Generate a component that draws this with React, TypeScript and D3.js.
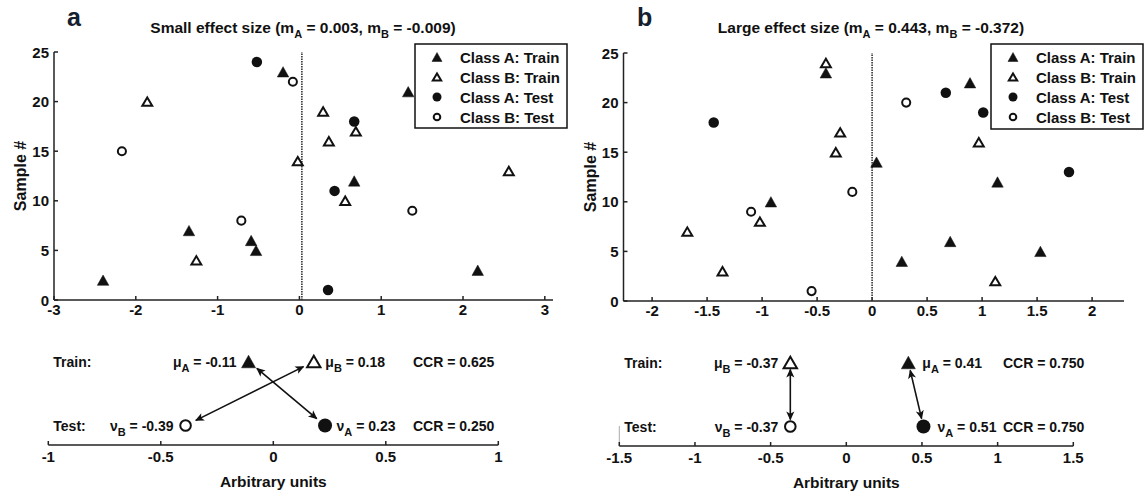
import React from "react";
import * as d3 from "d3";

// ---------- DATA ----------
// Panel a (small effect size)
const aTrainAx = [-2.4, 2.18, -0.53, -0.59, -1.35, 0.67, 1.33, -0.2];
const aTrainAy = [2, 3, 5, 6, 7, 12, 21, 23];
const aTrainBx = [-1.26, 0.56, 2.56, -0.02, 0.36, 0.69, 0.29, -1.86];
const aTrainBy = [4, 10, 13, 14, 16, 17, 19, 20];
const aTestAx = [0.35, 0.43, 0.67, -0.52];
const aTestAy = [1, 11, 18, 24];
const aTestBx = [-0.71, 1.38, -2.17, -0.08];
const aTestBy = [8, 9, 15, 22];

// Panel b (large effect size)
const bTrainAx = [0.27, 1.53, 0.71, -0.92, 1.14, 0.04, 0.89, -0.42];
const bTrainAy = [4, 5, 6, 10, 12, 14, 22, 23];
const bTrainBx = [1.12, -1.36, -1.68, -1.02, -0.33, 0.97, -0.29, -0.42];
const bTrainBy = [2, 3, 7, 8, 15, 16, 17, 24];
const bTestAx = [1.79, -1.44, 1.01, 0.67];
const bTestAy = [13, 18, 19, 21];
const bTestBx = [-0.55, -1.1, -0.18, 0.31];
const bTestBy = [1, 9, 11, 20];

// Means (bottom strips)
const aMeans = { muA: -0.11, muB: 0.18, nuA: 0.23, nuB: -0.39 };
const bMeans = { muA: 0.41, muB: -0.37, nuA: 0.51, nuB: -0.37 };
const aMeanLabels = { muA: "-0.11", muB: "0.18", nuA: "0.23", nuB: "-0.39" };
const bMeanLabels = { muA: "0.41", muB: "-0.37", nuA: "0.51", nuB: "-0.37" };
const aCCR = ["0.625", "0.250"];
const bCCR = ["0.750", "0.750"];

const aBoundary = 0.03;
const bBoundary = 0.0;

// Ticks
const aScatterXTicks = [-3, -2, -1, 0, 1, 2, 3];
const bScatterXTicks = [-2, -1.5, -1, -0.5, 0, 0.5, 1, 1.5, 2];
const yTicks = [0, 5, 10, 15, 20, 25];
const aStripTicks = [-1, -0.5, 0, 0.5, 1];
const bStripTicks = [-1.5, -1, -0.5, 0, 0.5, 1, 1.5];

const legendLabels = ["Class A: Train", "Class B: Train", "Class A: Test", "Class B: Test"];
const aTitle = { pre: "Small effect size (m", a: " = 0.003, m", b: " = -0.009)" };
const bTitle = { pre: "Large effect size (m", a: " = 0.443, m", b: " = -0.372)" };

// ---------- STYLE ----------
const FONT = "'Liberation Sans', Arial, Helvetica, sans-serif";
const INK = "#111";
const AXIS = "#222";

type MarkerKind = "triF" | "triO" | "cirF" | "cirO";

function Marker({ kind, cx, cy, s }: { kind: MarkerKind; cx: number; cy: number; s: number }) {
  if (kind === "triF") {
    const w = s, h = s * 0.9;
    return <path d={`M${cx - w / 2},${cy + h / 2}L${cx + w / 2},${cy + h / 2}L${cx},${cy - h / 2}Z`} fill={INK} stroke={INK} strokeWidth={0.5} strokeLinejoin="round" />;
  }
  if (kind === "triO") {
    const w = s - 1.6, h = (s - 1.6) * 0.85;
    return <path d={`M${cx - w / 2},${cy + h / 2}L${cx + w / 2},${cy + h / 2}L${cx},${cy - h / 2}Z`} fill="#fff" stroke={INK} strokeWidth={2} strokeLinejoin="miter" />;
  }
  if (kind === "cirF") {
    return <circle cx={cx} cy={cy} r={s / 2} fill={INK} />;
  }
  return <circle cx={cx} cy={cy} r={s / 2 - 1.2} fill="#fff" stroke={INK} strokeWidth={2} />;
}

type ScatterProps = {
  letter: string;
  letterX: number;
  title: { pre: string; a: string; b: string };
  titleX: number;
  xDomain: [number, number];
  xRange: [number, number];
  yRange: [number, number];
  xTicks: number[];
  boundary: number;
  series: { kind: MarkerKind; xs: number[]; ys: number[] }[];
  legend: { x: number; y: number; w: number; h: number };
};

function Scatter(p: ScatterProps) {
  const x = d3.scaleLinear().domain(p.xDomain).range(p.xRange);
  const y = d3.scaleLinear().domain([0, 25]).range(p.yRange);
  const x0 = p.xRange[0];
  const yb = p.yRange[0];
  const fmt = (v: number) => String(v);
  const kinds: MarkerKind[] = ["triF", "triO", "cirF", "cirO"];
  return (
    <g>
      <text x={p.letterX} y={26} fontSize={25} fontWeight="bold" fill="#15202e" fontFamily={FONT}>{p.letter}</text>
      <text x={p.titleX} y={33} fontSize={15.5} fontWeight="bold" fill={INK} textAnchor="middle" fontFamily={FONT}>
        {p.title.pre}
        <tspan fontSize={11} dy={5}>A</tspan>
        <tspan dy={-5}>{p.title.a}</tspan>
        <tspan fontSize={11} dy={5}>B</tspan>
        <tspan dy={-5}>{p.title.b}</tspan>
      </text>
      {/* axes */}
      <line x1={x0} x2={p.xRange[1]} y1={yb} y2={yb} stroke={AXIS} strokeWidth={1.5} />
      <line x1={x0} x2={x0} y1={yb} y2={p.yRange[1]} stroke={AXIS} strokeWidth={1.5} />
      {p.xTicks.map((t) => (
        <g key={"xt" + t}>
          <line x1={x(t)} x2={x(t)} y1={yb} y2={yb - 4} stroke={AXIS} strokeWidth={1.5} />
          <text x={x(t)} y={yb + 15} fontSize={15} fontWeight="bold" textAnchor="middle" fill={INK} fontFamily={FONT}>{fmt(t)}</text>
        </g>
      ))}
      {yTicks.map((t) => (
        <g key={"yt" + t}>
          <line x1={x0} x2={x0 + 4} y1={y(t)} y2={y(t)} stroke={AXIS} strokeWidth={1.5} />
          <text x={x0 - 5} y={y(t) + 5.5} fontSize={15} fontWeight="bold" textAnchor="end" fill={INK} fontFamily={FONT}>{t}</text>
        </g>
      ))}
      <text transform={`translate(${x0 - 28},${(p.yRange[0] + p.yRange[1]) / 2}) rotate(-90)`} fontSize={16} fontWeight="bold" textAnchor="middle" fill={INK} fontFamily={FONT}>Sample #</text>
      {/* boundary */}
      <line x1={x(p.boundary)} x2={x(p.boundary)} y1={yb} y2={p.yRange[1]} stroke="#333" strokeWidth={1.6} strokeDasharray="1.5,1" />
      {/* points */}
      {p.series.map((s, si) =>
        s.xs.map((v, i) => <Marker key={si + "-" + i} kind={s.kind} cx={x(v)} cy={y(s.ys[i])} s={s.kind.startsWith("tri") ? 11.5 : 10.5} />)
      )}
      {/* legend */}
      <rect x={p.legend.x} y={p.legend.y} width={p.legend.w} height={p.legend.h} fill="#fff" stroke={INK} strokeWidth={1.5} />
      {legendLabels.map((lab, i) => {
        const cy = p.legend.y + 13 + i * 20;
        return (
          <g key={lab}>
            <Marker kind={kinds[i]} cx={p.legend.x + 22} cy={cy} s={kinds[i].startsWith("tri") ? 10 : 9} />
            <text x={p.legend.x + 45} y={cy + 5.5} fontSize={15} fontWeight="bold" fill={INK} fontFamily={FONT}>{lab}</text>
          </g>
        );
      })}
    </g>
  );
}

type StripProps = {
  domain: [number, number];
  range: [number, number];
  axisY: number;
  ticks: number[];
  means: { muA: number; muB: number; nuA: number; nuB: number };
  labels: { muA: string; muB: string; nuA: string; nuB: string };
  ccr: string[];
  ccrX: number;
  rightGap: number;
  leftLine?: boolean;
};

function Label({ x, y, sym, sub, val, anchor }: { x: number; y: number; sym: string; sub: string; val: string; anchor: "start" | "end" }) {
  return (
    <text x={x} y={y} fontSize={14} fontWeight="bold" fill={INK} textAnchor={anchor} fontFamily={FONT}>
      {sym}
      <tspan fontSize={11} dy={5}>{sub}</tspan>
      <tspan dy={-5}>{" = " + val}</tspan>
    </text>
  );
}

function Strip(p: StripProps) {
  const x = d3.scaleLinear().domain(p.domain).range(p.range);
  const trainY = p.axisY - 83.5;
  const testY = p.axisY - 19.5;
  const arrowPairs: [number, number][] = [
    [p.means.muA, p.means.nuA],
    [p.means.muB, p.means.nuB],
  ];
  const m = p.means;
  const place = (v: number, other: number) => v >= other;
  return (
    <g>
      <line x1={p.range[0]} x2={p.range[1]} y1={p.axisY} y2={p.axisY} stroke={AXIS} strokeWidth={1.5} />
      {p.leftLine && <line x1={p.range[0]} x2={p.range[0]} y1={p.axisY} y2={p.axisY - 20} stroke="#aaa" strokeWidth={1} />}
      {p.ticks.map((t) => (
        <g key={t}>
          <line x1={x(t)} x2={x(t)} y1={p.axisY} y2={p.axisY - 4} stroke={AXIS} strokeWidth={1.5} />
          <text x={x(t)} y={p.axisY + 17} fontSize={15} fontWeight="bold" textAnchor="middle" fill={INK} fontFamily={FONT}>{String(t)}</text>
        </g>
      ))}
      <text x={(p.range[0] + p.range[1]) / 2} y={p.axisY + 42} fontSize={15.5} fontWeight="bold" textAnchor="middle" fill={INK} fontFamily={FONT}>Arbitrary units</text>
      <text x={p.range[0] + 5} y={trainY + 5} fontSize={14} fontWeight="bold" fill={INK} fontFamily={FONT}>Train:</text>
      <text x={p.range[0] + 5} y={testY + 5} fontSize={14} fontWeight="bold" fill={INK} fontFamily={FONT}>Test:</text>
      {arrowPairs.map(([a, b], i) => {
        const x1 = x(a), y1 = trainY, x2 = x(b), y2 = testY;
        const dx = x2 - x1, dy = y2 - y1;
        const len = Math.hypot(dx, dy);
        const ux = dx / len, uy = dy / len;
        const off = 7 + 5 * Math.abs(ux);
        return (
          <line key={i} x1={x1 + ux * off} y1={y1 + uy * off} x2={x2 - ux * off} y2={y2 - uy * off}
            stroke={INK} strokeWidth={1.6} markerStart="url(#ah)" markerEnd="url(#ah)" />
        );
      })}
      <Marker kind="triF" cx={x(m.muA)} cy={trainY} s={14} />
      <Marker kind="triO" cx={x(m.muB)} cy={trainY} s={15} />
      <Marker kind="cirF" cx={x(m.nuA)} cy={testY} s={14} />
      <Marker kind="cirO" cx={x(m.nuB)} cy={testY} s={13} />
      {place(m.muA, m.muB)
        ? <Label x={x(m.muA) + p.rightGap} y={trainY + 5} sym="μ" sub="A" val={p.labels.muA} anchor="start" />
        : <Label x={x(m.muA) - 12} y={trainY + 5} sym="μ" sub="A" val={p.labels.muA} anchor="end" />}
      {place(m.muB, m.muA)
        ? <Label x={x(m.muB) + p.rightGap} y={trainY + 5} sym="μ" sub="B" val={p.labels.muB} anchor="start" />
        : <Label x={x(m.muB) - 12} y={trainY + 5} sym="μ" sub="B" val={p.labels.muB} anchor="end" />}
      {place(m.nuA, m.nuB)
        ? <Label x={x(m.nuA) + p.rightGap} y={testY + 5} sym="ν" sub="A" val={p.labels.nuA} anchor="start" />
        : <Label x={x(m.nuA) - 12} y={testY + 5} sym="ν" sub="A" val={p.labels.nuA} anchor="end" />}
      {place(m.nuB, m.nuA)
        ? <Label x={x(m.nuB) + p.rightGap} y={testY + 5} sym="ν" sub="B" val={p.labels.nuB} anchor="start" />
        : <Label x={x(m.nuB) - 12} y={testY + 5} sym="ν" sub="B" val={p.labels.nuB} anchor="end" />}
      <text x={p.ccrX} y={trainY + 5} fontSize={14} fontWeight="bold" fill={INK} fontFamily={FONT}>{"CCR = " + p.ccr[0]}</text>
      <text x={p.ccrX} y={testY + 5} fontSize={14} fontWeight="bold" fill={INK} fontFamily={FONT}>{"CCR = " + p.ccr[1]}</text>
    </g>
  );
}

export default function App() {
  return (
    <svg width={1145} height={492} style={{ position: "absolute", left: 0, top: 0, background: "#fff" }} fontFamily={FONT}>
      <defs>
        <marker id="ah" viewBox="0 0 10 10" refX={9} refY={5} markerWidth={10} markerHeight={9} markerUnits="userSpaceOnUse" orient="auto-start-reverse">
          <path d="M0,0.5 L10,5 L0,9.5 L2.5,5 Z" fill={INK} />
        </marker>
      </defs>
      <rect width={1145} height={492} fill="#fff" />
      <Scatter
        letter="a" letterX={67} title={aTitle} titleX={303}
        xDomain={[-3, 3.1]} xRange={[54, 553]} yRange={[300, 52]}
        xTicks={aScatterXTicks} boundary={aBoundary}
        series={[
          { kind: "triF", xs: aTrainAx, ys: aTrainAy },
          { kind: "triO", xs: aTrainBx, ys: aTrainBy },
          { kind: "cirF", xs: aTestAx, ys: aTestAy },
          { kind: "cirO", xs: aTestBx, ys: aTestBy },
        ]}
        legend={{ x: 415, y: 44, w: 152, h: 84 }}
      />
      <Scatter
        letter="b" letterX={637} title={bTitle} titleX={871}
        xDomain={[-2.26, 2.29]} xRange={[623.5, 1124]} yRange={[301, 53]}
        xTicks={bScatterXTicks} boundary={bBoundary}
        series={[
          { kind: "triF", xs: bTrainAx, ys: bTrainAy },
          { kind: "triO", xs: bTrainBx, ys: bTrainBy },
          { kind: "cirF", xs: bTestAx, ys: bTestAy },
          { kind: "cirO", xs: bTestBx, ys: bTestBy },
        ]}
        legend={{ x: 991, y: 44, w: 152, h: 85 }}
      />
      <Strip domain={[-1, 1]} range={[48.3, 498.3]} axisY={445} ticks={aStripTicks}
        means={aMeans} labels={aMeanLabels} ccr={aCCR} ccrX={413} rightGap={11.5} />
      <Strip domain={[-1.5, 1.5]} range={[619.3, 1073.3]} axisY={446} ticks={bStripTicks}
        means={bMeans} labels={bMeanLabels} ccr={bCCR} ccrX={1003} rightGap={14} leftLine />
    </svg>
  );
}
